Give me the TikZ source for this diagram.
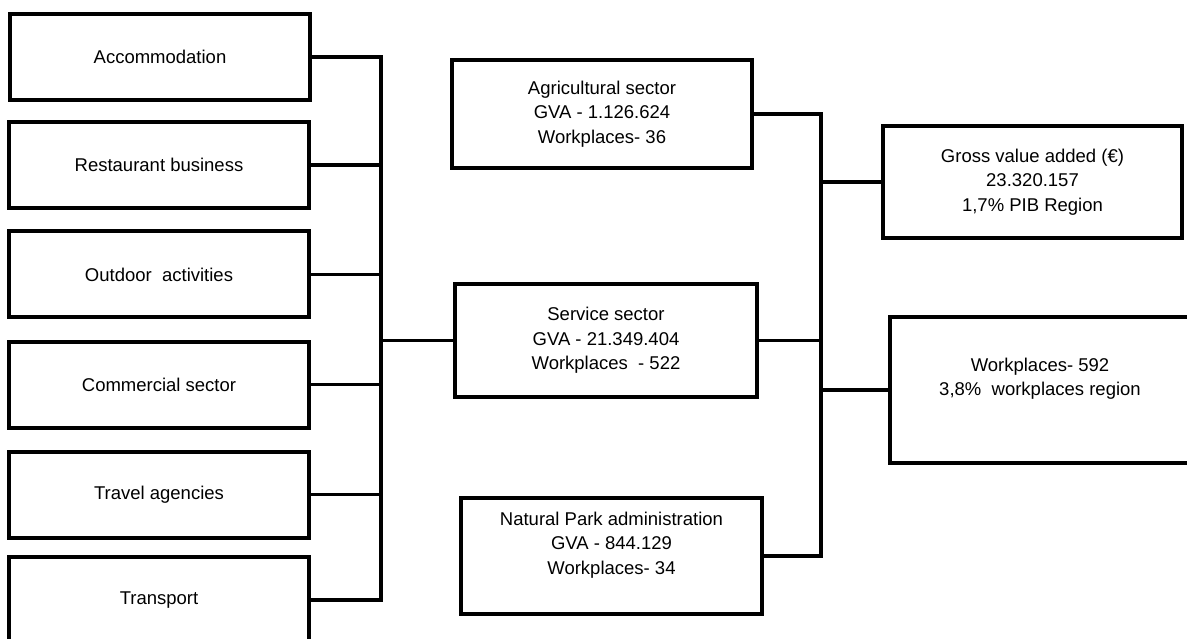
\documentclass[tikz,border=0pt]{standalone}
\usepackage{fontspec}
\setmainfont{Liberation Sans}
\usepackage{tikz}

\tikzset{
  sectorbox/.style={draw, line width=4pt, align=center, inner sep=0pt,
    font=\fontsize{18.5}{24.5}\selectfont},
  leftbox/.style={sectorbox, minimum width=300pt, minimum height=86pt},
  link/.style={line width=3.4pt, line cap=rect},
}

\begin{document}
\begin{tikzpicture}[x=1pt, y=-1pt]
                \useasboundingbox (0,0) rectangle (1187,639);
                \clip (0,0) rectangle (1187,639);
                % activities
                \node[leftbox] (acc) at (160,57) {Accommodation};
                \node[leftbox] (rst) at (159,165) {Restaurant business};
                \node[leftbox] (out) at (159,274.5) {Outdoor~ activities};
                \node[leftbox] (com) at (159,384.5) {Commercial sector};
                \node[leftbox] (trv) at (159,494.5) {Travel agencies};
                \node[leftbox] (trn) at (159,600) {Transport};
                % sectors
                \node[sectorbox, minimum width=300pt, minimum height=108pt] (agr) at (602,114)
                    {Agricultural sector\\GVA - 1.126.624\\Workplaces- 36};
                \node[sectorbox, minimum width=302pt, minimum height=113pt] (srv) at (606,340.5)
                    {Service sector\\GVA - 21.349.404\\Workplaces~ - 522};
                \node[sectorbox, minimum width=301pt, minimum height=116pt] (nat) at (611.5,556)
                    {Natural Park administration\\GVA - 844.129\\Workplaces- 34\rule[-26pt]{0pt}{0pt}};
                % totals
                \node[sectorbox, minimum width=299pt, minimum height=112pt] (gva) at (1032.5,182)
                    {Gross value added (€)\\23.320.157\\1,7\% PIB Region};
                \node[sectorbox, minimum width=300pt, minimum height=146pt] (wrk) at (1040,390)
                    {Workplaces- 592\\3,8\%~ workplaces region\rule[-26pt]{0pt}{0pt}};
                \coordinate (busL) at (381,0);
                \coordinate (busR) at (821,0);
                \foreach \n in {acc,rst,out,com,trv,trn}
                    \draw[link] (\n.east) -- (\n.east -| busL);
                \draw[link] (acc.east -| busL) -- (trn.east -| busL);
                \draw[link] (srv.west -| busL) -- (srv.west);
                \draw[link] (agr.east) -| (nat.east -| busR) -- (nat.east);
                \draw[link] (srv.east) -- (srv.east -| busR);
                \draw[link] (gva.west -| busR) -- (gva.west);
                \draw[link] (wrk.west -| busR) -- (wrk.west);
            \end{tikzpicture}
\end{document}
